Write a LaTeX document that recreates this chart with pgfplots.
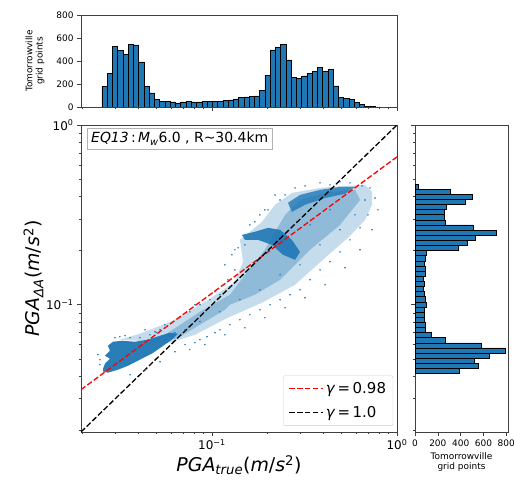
\documentclass[border=0pt]{standalone}
\usepackage{pgfplots}
\pgfplotsset{compat=1.18}
\usepackage{pgfplotstable}
\usepackage{fontspec}
\setmainfont{DejaVu Sans}
\definecolor{mplblue}{HTML}{1F77B4}

% top histogram: left bin edge of PGA_true, count
\pgfplotstableread{
e c
0.02541 180
0.02713 291
0.02896 524
0.03092 495
0.03301 460
0.03524 547
0.03762 541
0.04017 393
0.04288 180
0.04578 122
0.04888 67
0.05218 52
0.05571 52
0.05948 44
0.06350 35
0.06779 44
0.07237 49
0.07727 44
0.08249 44
0.08807 49
0.09402 52
0.10038 49
0.10717 52
0.11441 55
0.12215 61
0.13040 70
0.13922 81
0.14863 87
0.15868 90
0.16941 96
0.18086 145
0.19309 278
0.20614 496
0.22008 516
0.23496 545
0.25084 409
0.26780 255
0.28591 250
0.30524 270
0.32587 293
0.34790 307
0.37143 345
0.39654 307
0.42334 328
0.45197 183
0.48252 81
0.51515 77
0.54997 64
0.58716 38
0.62685 20
0.66924 6
0.71448 3
0.76280 2
0.81440 0
}\tophist

% right histogram: lower bin edge of PGA_DeltaA, count
\pgfplotstableread{
e c
0.04145 391
0.04426 554
0.04726 516
0.05046 649
0.05388 791
0.05754 584
0.06144 267
0.06560 139
0.07005 89
0.07480 89
0.07987 80
0.08529 80
0.09107 80
0.09725 95
0.10384 89
0.11088 80
0.11840 74
0.12643 80
0.13500 74
0.14416 86
0.15393 89
0.16437 80
0.17552 89
0.18742 95
0.20013 376
0.21370 456
0.22819 530
0.24366 711
0.26019 510
0.27783 267
0.29667 252
0.31679 252
0.33827 273
0.36121 441
0.38570 500
0.41186 308
0.43979 30
0.46961 0
}\righthist

\pgfplotsset{
  mplframe/.style={
    axis line style={black!75, line width=0.7bp},
    tick style={black!75, line width=0.6bp},
    tick align=outside,
    major tick length=4bp,
    minor tick length=2.4bp,
    xtick pos=left, ytick pos=left,
    /pgf/number format/assume math mode=true,
  }
}

\begin{document}
\begin{tikzpicture}[x=1bp,y=1bp]
\path[use as bounding box] (0,0) rectangle (514,487);

% ---------------- main scatter ----------------
\begin{axis}[
  mplframe,
  at={(81bp,55bp)}, anchor=south west,
  scale only axis, width=316bp, height=307bp,
  xmode=log, ymode=log,
  xmin=0.0196, xmax=1, ymin=0.0196, ymax=1,
  xtick={0.1,1}, ytick={0.1,1},
  xticklabels={10\textsuperscript{−1},10\textsuperscript{0}},
  yticklabels={10\textsuperscript{−1},10\textsuperscript{0}},
  minor xtick={0.02,0.03,0.04,0.05,0.06,0.07,0.08,0.09,0.2,0.3,0.4,0.5,0.6,0.7,0.8,0.9},
  minor ytick={0.02,0.03,0.04,0.05,0.06,0.07,0.08,0.09,0.2,0.3,0.4,0.5,0.6,0.7,0.8,0.9},
  ticklabel style={font=\fontsize{12}{14}\selectfont},
  xlabel={\textit{PGA}\textsubscript{\textit{true}}(\textit{m}/\textit{s}\textsuperscript{2})},
  ylabel={\textit{PGA}\textsubscript{\textit{ΔA}}(\textit{m}/\textit{s}\textsuperscript{2})},
  xlabel style={at={(rel axis cs:0.5,-0.064)}, anchor=north, font=\fontsize{19}{22}\selectfont},
  ylabel style={at={(rel axis cs:-0.108,0.5)}, anchor=south, font=\fontsize{19}{22}\selectfont},
  legend style={at={(rel axis cs:0.988,0.02)}, anchor=south east, draw=black!20,
    rounded corners=2bp, font=\fontsize{15}{18}\selectfont, row sep=7bp,
    inner xsep=5bp, inner ysep=5bp, fill=white, fill opacity=0.85, text opacity=1},
  legend cell align=left,
  legend image code/.code={\draw[#1, line width=1.3bp] (0bp,0bp) -- (34bp,0bp);},
]
% diffuse part of the point cloud
\addplot[fill=mplblue, fill opacity=0.26, draw=none, forget plot] coordinates {
(0.0318,0.0640) (0.0408,0.0690) (0.0615,0.0815) (0.0940,0.1052) (0.1330,0.1343)
(0.1472,0.1734) (0.1416,0.2296) (0.1603,0.2547) (0.1862,0.2891) (0.2193,0.3597)
(0.2704,0.4188) (0.3837,0.4467) (0.5236,0.4581) (0.6714,0.4645) (0.7328,0.4246)
(0.7328,0.3597) (0.6714,0.2965) (0.5572,0.2415) (0.4083,0.1824) (0.2812,0.1291)
(0.1862,0.1026) (0.1219,0.0847) (0.0809,0.0681) (0.0593,0.0615)} -- cycle;
% denser core of the cloud
\addplot[fill=mplblue, fill opacity=0.33, draw=none, forget plot] coordinates {
(0.0557,0.0681) (0.0861,0.0914) (0.1250,0.1137) (0.1507,0.1468) (0.1932,0.2023)
(0.2483,0.3162) (0.2992,0.3828) (0.4345,0.4246) (0.5929,0.4355) (0.6310,0.3828)
(0.4920,0.2780) (0.3388,0.2023) (0.2333,0.1377) (0.1706,0.1137) (0.1250,0.1000)
(0.1175,0.0938) (0.0809,0.0745) (0.0631,0.0640)} -- cycle;
% dense lower-left cluster
\addplot[fill=mplblue, fill opacity=0.95, draw=none, forget plot] coordinates {
(0.0258,0.0425) (0.0274,0.0419) (0.0310,0.0435) (0.0352,0.0458) (0.0408,0.0495)
(0.0474,0.0535) (0.0537,0.0585) (0.0608,0.0640) (0.0655,0.0690) (0.0593,0.0699)
(0.0524,0.0673) (0.0451,0.0640) (0.0384,0.0623) (0.0327,0.0631) (0.0292,0.0623)
(0.0274,0.0592) (0.0281,0.0555) (0.0264,0.0521) (0.0281,0.0501) (0.0264,0.0470)
(0.0258,0.0441)} -- cycle;
% dense arm of the upper cluster
\addplot[fill=mplblue, fill opacity=0.9, draw=none, forget plot] coordinates {
(0.1452,0.2449) (0.1706,0.2547) (0.2009,0.2679) (0.2333,0.2612) (0.2704,0.2296)
(0.2992,0.1968) (0.2812,0.1778) (0.2421,0.1897) (0.2109,0.2154) (0.1774,0.2296)
(0.1507,0.2296)} -- cycle;
% dense top strip of the upper cluster
\addplot[fill=mplblue, fill opacity=0.8, draw=none, forget plot] coordinates {
(0.2576,0.3690) (0.2992,0.4083) (0.3837,0.4355) (0.4920,0.4529) (0.5929,0.4529)
(0.5236,0.4140) (0.4083,0.3926) (0.3184,0.3597) (0.2704,0.3286)} -- cycle;
% scattered points of the cloud
\addplot[only marks, mark=*, mark size=0.55pt, mplblue, draw=none, fill opacity=0.75, forget plot] coordinates {
(0.0715,0.0600) (0.0809,0.0615) (0.0861,0.0640) (0.0940,0.0664) (0.1038,0.0699)
(0.1104,0.0726) (0.1250,0.0774) (0.1416,0.0826) (0.1603,0.0880) (0.1816,0.0938)
(0.2061,0.1000) (0.2333,0.1067) (0.2642,0.1137) (0.2992,0.1211) (0.3388,0.1377)
(0.3837,0.1563) (0.4345,0.1734) (0.4920,0.1968) (0.5572,0.2296) (0.6310,0.2679)
(0.6966,0.3162) (0.7603,0.3926) (0.7145,0.4467)
(0.0462,0.0681) (0.0524,0.0726) (0.0557,0.0774) (0.0671,0.0847) (0.0760,0.0914)
(0.0861,0.1000) (0.0975,0.1067) (0.1104,0.1137) (0.1250,0.1259) (0.1330,0.1563)
(0.1282,0.1897) (0.1384,0.2075) (0.1603,0.2780) (0.1816,0.3162) (0.2009,0.3373)
(0.2333,0.3828) (0.2483,0.4083) (0.3184,0.4581) (0.4345,0.4645) (0.5572,0.4764)
(0.0248,0.0465) (0.0299,0.0656) (0.0339,0.0673) (0.0361,0.0656) (0.0435,0.0726)
(0.0715,0.0726) (0.0630,0.0700) (0.0500,0.0700)
(0.0916,0.0600) (0.1175,0.0681) (0.1507,0.0745) (0.1932,0.0847) (0.2483,0.0962)
(0.3184,0.1094) (0.4083,0.1291) (0.5236,0.1607) (0.6310,0.2023) (0.7328,0.2612)
(0.7894,0.3373)
(0.0809,0.1000) (0.1038,0.1181) (0.1219,0.1377) (0.1175,0.1667) (0.1330,0.2023)
(0.1507,0.2154) (0.1706,0.2891) (0.1932,0.3373) (0.2193,0.4083) (0.2812,0.4467)
(0.3837,0.4764) (0.4920,0.4825) (0.6471,0.4581)
(0.0248,0.0495) (0.0242,0.0528) (0.0318,0.0664) (0.0408,0.0656) (0.0492,0.0708)
(0.0557,0.0745) (0.0361,0.0408) (0.0435,0.0435) (0.0524,0.0482) (0.0631,0.0548)
(0.0760,0.0562)
(0.0861,0.0805) (0.1104,0.0914) (0.1416,0.1067) (0.1816,0.1211) (0.2333,0.1468)
(0.2992,0.1667) (0.3837,0.2154) (0.4920,0.2612) (0.5929,0.3162) (0.6714,0.3828)
(0.3388,0.2780) (0.4345,0.3373) (0.2642,0.1897)
};
\addplot[red, dash pattern=on 5.5bp off 2.4bp, line width=1.3bp] coordinates {(0.0196,0.0337) (1,0.665)};
\addlegendentry{\textit{γ}\,=\,0.98}
\addplot[black, dash pattern=on 5.5bp off 2.4bp, line width=1.3bp] coordinates {(0.0196,0.0196) (1,1)};
\addlegendentry{\textit{γ}\,=\,1.0}
\node[draw=black!30, fill=white, anchor=north west, inner xsep=4bp, inner ysep=4bp,
  font=\fontsize{14}{16}\selectfont] at (rel axis cs:0.019,0.99)
  {\textit{EQ13}\,:\,\textit{M}\textsubscript{\textit{w}}6.0 , R\textasciitilde 30.4km};
\end{axis}

% ---------------- top histogram ----------------
\begin{axis}[
  mplframe,
  at={(81bp,380bp)}, anchor=south west,
  scale only axis, width=316bp, height=92bp,
  xmode=log, xmin=0.0196, xmax=1,
  ymin=0, ymax=800, ytick={0,200,400,600,800},
  xtick={0.1,1}, xticklabels={},
  minor xtick={0.02,0.03,0.04,0.05,0.06,0.07,0.08,0.09,0.2,0.3,0.4,0.5,0.6,0.7,0.8,0.9},
  ticklabel style={font=\fontsize{9}{10}\selectfont},
  ylabel={Tomorrowville\\grid points},
  ylabel style={at={(rel axis cs:-0.104,0.5)}, anchor=south, align=center,
    font=\fontsize{9}{10.5}\selectfont},
]
\addplot[ybar interval, fill=mplblue, draw=black, line width=0.5bp] table[x=e, y=c] {\tophist};
\end{axis}

% ---------------- right histogram ----------------
\begin{axis}[
  mplframe,
  at={(415bp,55bp)}, anchor=south west,
  scale only axis, width=93bp, height=307bp,
  ymode=log, ymin=0.0196, ymax=1,
  xmin=0, xmax=815, xtick={0,200,400,600,800},
  ytick={0.1,1}, yticklabels={},
  minor ytick={0.02,0.03,0.04,0.05,0.06,0.07,0.08,0.09,0.2,0.3,0.4,0.5,0.6,0.7,0.8,0.9},
  ticklabel style={font=\fontsize{9}{10}\selectfont},
  xlabel={Tomorrowville\\grid points},
  xlabel style={at={(rel axis cs:0.5,-0.055)}, anchor=north, align=center,
    font=\fontsize{9}{10.5}\selectfont},
]
\addplot[xbar interval, fill=mplblue, draw=black, line width=0.5bp] table[x=c, y=e] {\righthist};
\end{axis}
\end{tikzpicture}
\end{document}
